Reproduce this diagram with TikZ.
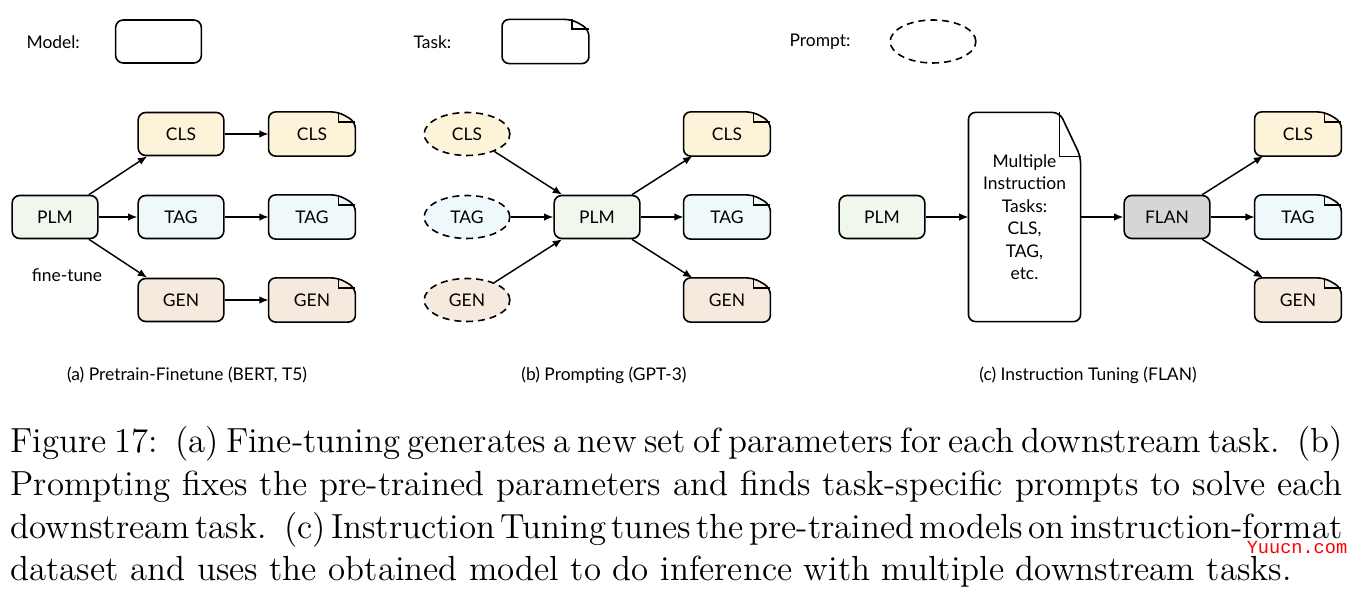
\documentclass[tikz,border=0pt]{standalone}
\usepackage{fontspec}
\newfontfamily\diagfont{Lato}
\newfontfamily\markfont{Liberation Mono}
\usetikzlibrary{arrows.meta,shapes.geometric,backgrounds,positioning}
\definecolor{clsfill}{RGB}{253,243,216}
\definecolor{tagfill}{RGB}{239,248,251}
\definecolor{genfill}{RGB}{246,234,222}
\definecolor{plmfill}{RGB}{240,247,236}
\definecolor{flanfill}{RGB}{214,214,214}
% one full-width line of the caption
\newcommand{\capline}[1]{\leavevmode\hbox to 458.6pt{\spaceskip=3.92pt plus 3pt minus 2.6pt\relax #1}}
\tikzstyle{lbl}=[inner sep=0pt, font=\diagfont\fontsize{6}{7.5}\selectfont]
\tikzstyle{modelbox}=[rectangle, draw, rounded corners=2.6pt, line width=0.55pt, minimum width=29.5pt, minimum height=14.8pt, inner sep=0pt, font=\diagfont\fontsize{6}{7.5}\selectfont]
\tikzstyle{taskbox}=[rectangle, minimum width=29.5pt, minimum height=14.8pt, inner sep=0pt, font=\diagfont\fontsize{6}{7.5}\selectfont]
\tikzstyle{taskedge}=[draw, rounded corners=2.4pt, line width=0.55pt]
\tikzstyle{promptbox}=[ellipse, draw, dash pattern=on 2.4pt off 1.7pt, line width=0.55pt, minimum width=29.5pt, minimum height=14.8pt, inner sep=0pt, font=\diagfont\fontsize{6}{7.5}\selectfont]
\tikzstyle{fold}=[draw, line width=0.55pt]
\tikzstyle{link}=[draw, line width=0.5pt, ->]

\begin{document}
\begin{tikzpicture}[x=0.3443pt, y=-0.3443pt, >={Latex[length=3.2pt,width=2.6pt]}]
    \useasboundingbox (0,0) rectangle (1364,605);
    % Legend row
    \node[lbl, anchor=west] (modelLbl) at (26,42) {Model:};
    \node[modelbox] (modelKey) at (158.5,41.5) {};
    \node[lbl, anchor=west] (taskLbl) at (413,42) {Task:};
    \node[taskbox] (taskKey) at (545.5,41.5) {};
    \node[lbl, anchor=west] (promptLbl) at (789,42) {Prompt:};
    \node[promptbox] (promptKey) at (933,41.5) {};

    % (a) pretrain then fine-tune one model per task
    \node[modelbox, fill=plmfill] (plmA) at (55,217) {PLM};
    \node[lbl] (finetune) at (67,275) {fine-tune};
    \foreach \y/\name/\col in {134/CLS/clsfill, 217/TAG/tagfill, 300/GEN/genfill} {
        \node[modelbox, fill=\col] (a\name) at (181,\y) {\name};
        \node[taskbox] (at\name) at (312,\y) {\name};
        \path[link] (plmA) -- (a\name);
        \path[link] (a\name) -- (at\name);
    }

    % (b) prompting a frozen model
    \node[modelbox, fill=plmfill] (plmB) at (597,217) {PLM};
    \foreach \y/\name/\col in {134/CLS/clsfill, 217/TAG/tagfill, 300/GEN/genfill} {
        \node[promptbox, fill=\col] (bp\name) at (467,\y) {\name};
        \node[taskbox] (bt\name) at (727,\y) {\name};
        \path[link] (bp\name) -- (plmB);
        \path[link] (plmB) -- (bt\name);
    }

    % (c) instruction tuning
    \node[modelbox, fill=plmfill] (plmC) at (882,217) {PLM};
    \node[taskbox, minimum width=38.2pt, minimum height=71.6pt, align=center,
          font=\diagfont\fontsize{6}{7.75}\selectfont] (multi) at (1024.5,217)
          {Multiple\\Instruction\\Tasks:\\CLS,\\TAG,\\etc.};
    \node[modelbox, fill=flanfill] (flan) at (1167,217) {FLAN};
    \path[link] (plmC) -- (multi);
    \path[link] (multi) -- (flan);
    \foreach \y/\name/\col in {134/CLS/clsfill, 217/TAG/tagfill, 300/GEN/genfill} {
        \node[taskbox] (ct\name) at (1298,\y) {\name};
        \path[link] (flan) -- (ct\name);
    }

    % Task shapes: page with a dog-ear, drawn behind the labels
    \begin{pgfonlayer}{background}
    \foreach \n/\col/\fx/\fy in {taskKey/white/5.8pt/3.4pt, atCLS/clsfill/5.8pt/3.4pt,
            atTAG/tagfill/5.8pt/3.4pt, atGEN/genfill/5.8pt/3.4pt, btCLS/clsfill/5.8pt/3.4pt,
            btTAG/tagfill/5.8pt/3.4pt, btGEN/genfill/5.8pt/3.4pt, ctCLS/clsfill/5.8pt/3.4pt,
            ctTAG/tagfill/5.8pt/3.4pt, ctGEN/genfill/5.8pt/3.4pt, multi/white/7.2pt/15.2pt} {
        \path[taskedge, fill=\col] ([xshift=-\fx]\n.north east) -- ([yshift=-\fy]\n.north east)
            -- (\n.south east) -- (\n.south west) -- (\n.north west) -- cycle;
        \path[fold] ([xshift=-\fx]\n.north east) |- ([yshift=-\fy]\n.north east);
    }
    \end{pgfonlayer}

    % Sub-captions
    \node[lbl] (capA) at (187,375) {(a) Pretrain-Finetune (BERT, T5)};
    \node[lbl] (capB) at (604,375) {(b) Prompting (GPT-3)};
    \node[lbl] (capC) at (1088,375) {(c) Instruction Tuning (FLAN)};

    % Figure caption
    \node[anchor=north west, inner sep=0pt, text width=458.6pt, align=left,
          font=\fontsize{12}{14.7}\selectfont] (caption) at (10,426)
          {\capline{Figure 17: (a) Fine-tuning generates a new set of parameters for each downstream task. (b)}\\
           \capline{Prompting fixes the pre-trained parameters and finds task-specific prompts to solve each}\\
           \capline{downstream task. (c) Instruction Tuning tunes the pre-trained models on instruction-format}\\
           dataset and uses the obtained model to do inference with multiple downstream tasks.};
    \node[text=red, inner sep=0pt, font=\markfont\fontsize{6.4}{8}\selectfont] (mark) at (1297,547) {Yuucn.com};
\end{tikzpicture}
\end{document}
